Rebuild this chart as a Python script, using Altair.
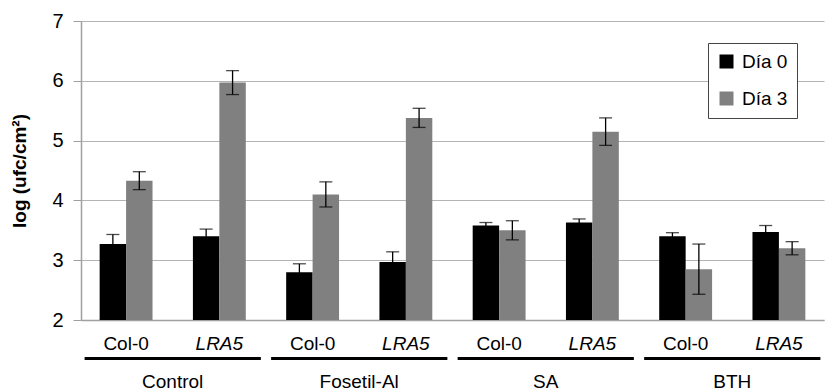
import altair as alt
import pandas as pd

# Bacterial growth, log(ufc/cm²), per treatment and genotype
treatments = ["Control", "Fosetil-Al", "SA", "BTH"]
genotypes = ["Col-0", "LRA5"]
days = ["Día 0", "Día 3"]

day0_mean = [3.27, 3.40, 2.80, 2.97, 3.58, 3.63, 3.40, 3.47]
day0_err = [0.16, 0.12, 0.14, 0.17, 0.05, 0.06, 0.06, 0.11]
day3_mean = [4.33, 5.97, 4.10, 5.38, 3.50, 5.15, 2.85, 3.20]
day3_err = [0.15, 0.20, 0.21, 0.16, 0.16, 0.23, 0.42, 0.11]

y_ticks = [2, 3, 4, 5, 6, 7]
FONT = "Liberation Sans"

cond_order = [f"{t}|{g}" for t in treatments for g in genotypes]

rows = []
for i, t in enumerate(treatments):
    for j, g in enumerate(genotypes):
        k = 2 * i + j
        for day, m, e in ((days[0], day0_mean[k], day0_err[k]),
                          (days[1], day3_mean[k], day3_err[k])):
            rows.append(dict(cond=f"{t}|{g}", treat=t, geno=g, day=day,
                             mean=m, lo=m - e, hi=m + e, base=y_ticks[0]))
df = pd.DataFrame(rows)

labels_df = pd.DataFrame([dict(cond=f"{t}|{g}", geno=g)
                          for t in treatments for g in genotypes])
groups_df = pd.DataFrame([dict(treat=t, first=f"{t}|{genotypes[0]}",
                               last=f"{t}|{genotypes[1]}") for t in treatments])

x_scale = alt.Scale(domain=cond_order, paddingInner=0.433, paddingOuter=0.2)
x_axis = alt.Axis(labels=False, ticks=False, title=None, grid=False,
                  domainColor="#a0a0a0", domainWidth=1.5)
y_scale = alt.Scale(domain=[2, 7], nice=False, zero=False)
y_axis = alt.Axis(values=y_ticks, format="d", title="log (ufc/cm²)",
                  labelFontSize=20, labelColor="black", labelPadding=10,
                  tickSize=8, tickColor="#a0a0a0", domainColor="#a0a0a0",
                  domainWidth=1.5, gridColor="#b4b4b4", titleFontSize=19,
                  titleFontWeight="bold", titleColor="black", titlePadding=22)

x_enc = alt.X("cond:N", sort=cond_order, scale=x_scale, axis=x_axis)
xoff_enc = alt.XOffset("day:N", sort=days,
                       scale=alt.Scale(domain=days, paddingInner=0, paddingOuter=0))

base = alt.Chart(df)

bars = base.mark_bar().encode(
    x=x_enc,
    xOffset=xoff_enc,
    y=alt.Y("mean:Q", scale=y_scale, axis=y_axis),
    y2="base:Q",
    color=alt.Color("day:N", sort=days,
                    scale=alt.Scale(domain=days, range=["#000000", "#808080"]),
                    legend=alt.Legend(title=None, orient="none", legendX=627,
                                      legendY=22, direction="vertical",
                                      symbolType="square", symbolSize=196,
                                      symbolStrokeWidth=0, labelFontSize=19,
                                      labelFont=FONT, labelColor="black",
                                      padding=9, rowPadding=17, labelOffset=6,
                                      strokeColor="#444444", fillColor="white")),
)

err_line = base.mark_rule(color="black", strokeWidth=1.3).encode(
    x=x_enc, xOffset=xoff_enc, y="lo:Q", y2="hi:Q")
cap_lo = base.mark_tick(color="black", thickness=1.3, size=13,
                        orient="horizontal").encode(x=x_enc, xOffset=xoff_enc, y="lo:Q")
cap_hi = base.mark_tick(color="black", thickness=1.3, size=13,
                        orient="horizontal").encode(x=x_enc, xOffset=xoff_enc, y="hi:Q")

lab = alt.Chart(labels_df)
geno_normal = lab.transform_filter(alt.datum.geno == genotypes[0]).mark_text(
    fontSize=19, font=FONT, color="black", baseline="middle").encode(
    x=x_enc, y=alt.value(323), text="geno:N")
geno_italic = lab.transform_filter(alt.datum.geno == genotypes[1]).mark_text(
    fontSize=19, font=FONT, color="black", baseline="middle",
    fontStyle="italic").encode(x=x_enc, y=alt.value(323), text="geno:N")

grp = alt.Chart(groups_df)
group_lines = grp.mark_rule(color="black", strokeWidth=3,
                            xOffset=-41.5, x2Offset=41.5).encode(
    x=alt.X("first:N", sort=cond_order, scale=x_scale, axis=x_axis),
    x2="last:N", y=alt.value(337.5))
group_text = grp.mark_text(fontSize=19, font=FONT, color="black",
                           baseline="middle", dx=46.6).encode(
    x=alt.X("first:N", sort=cond_order, scale=x_scale, axis=x_axis),
    y=alt.value(360.5), text="treat:N")

chart = alt.layer(bars, err_line, cap_lo, cap_hi, geno_normal, geno_italic,
                  group_lines, group_text).properties(
    width=743, height=299,
    padding={"left": 81, "top": 21, "right": 1, "bottom": 71},
    autosize=alt.AutoSizeParams(type="none"),
).configure(font=FONT).configure_view(stroke=None)

chart.save("out.html", embed_options={"renderer": "svg", "actions": False})
